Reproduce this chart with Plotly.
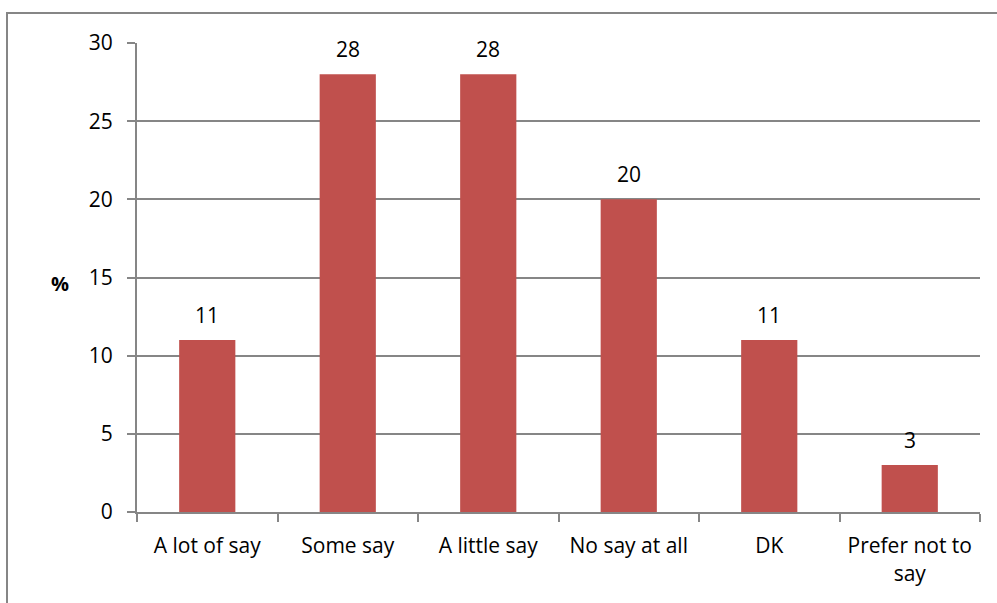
import plotly.graph_objects as go

categories = ["A lot of say", "Some say", "A little say", "No say at all", "DK", "Prefer not to<br>say"]
values = [11, 28, 28, 20, 11, 3]
y_ticks = [0, 5, 10, 15, 20, 25, 30]

W, H = 997, 603
L, R, T, B = 137, 17, 43, 91
pw, ph = W - L - R, H - T - B
FONT = "Open Sans, Lato, Liberation Sans, sans-serif"

fig = go.Figure(go.Bar(
    x=categories, y=values, marker_color="#C0504D", marker_line_width=0,
))

labels = [dict(x=c, y=v, text=str(v), xref="x", yref="y", showarrow=False, yanchor="bottom",
               yshift=9, font=dict(size=21, color="black", family=FONT))
          for c, v in zip(categories, values)]

fig.update_layout(
    width=W, height=H, margin=dict(l=L, r=R, t=T, b=B),
    plot_bgcolor="white", paper_bgcolor="white", bargap=0.6, showlegend=False,
    font=dict(family=FONT, size=21, color="black"),
    xaxis=dict(showline=True, linecolor="#868686", linewidth=2, ticks="outside", tickson="boundaries",
               ticklen=8, tickcolor="#868686", tickwidth=2, showgrid=False, automargin=False,
               ticklabelstandoff=14),
    yaxis=dict(range=[0, 30], tickvals=y_ticks, showline=True, linecolor="#868686", linewidth=2,
               ticks="outside", ticklen=8, tickcolor="#868686", tickwidth=2, automargin=False,
               showgrid=True, gridcolor="#868686", gridwidth=1.5, zeroline=False, ticklabelstandoff=10),
    annotations=labels + [dict(text="<b>%</b>", x=(60 - L) / pw, y=1 - (283 - T) / ph, xref="paper",
                               yref="paper", xanchor="center", yanchor="middle",
                               showarrow=False, font=dict(size=20))],
    shapes=[dict(type="rect", xref="paper", yref="paper", x0=(7 - L) / pw, x1=1.05,
                 y0=-0.3, y1=1 + (T - 13) / ph, line=dict(color="#868686", width=2), layer="below")],
)

fig.write_html("out.html", config={"displayModeBar": False},
               post_script="document.body.style.margin='0';document.body.style.overflow='hidden';")
